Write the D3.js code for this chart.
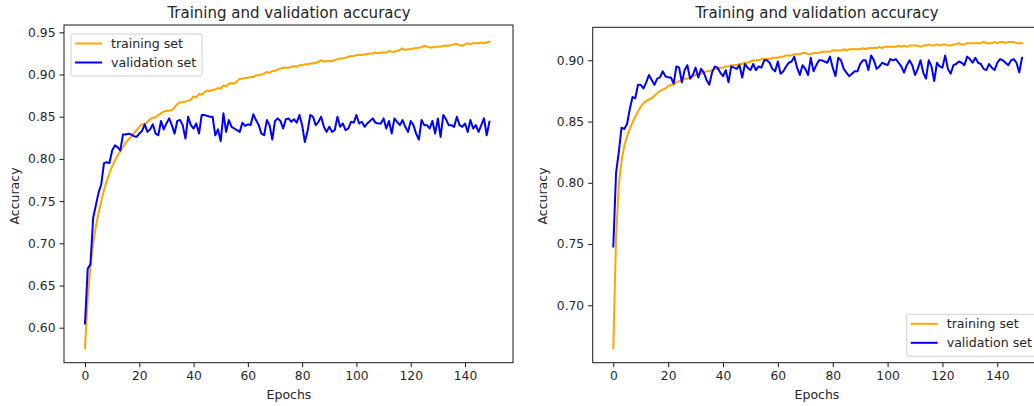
<!DOCTYPE html>
<html>
<head>
<meta charset="utf-8">
<script src="https://cdn.jsdelivr.net/npm/d3@7"></script>
<style>
  html, body { margin: 0; padding: 0; background: #fff; }
  svg { display: block; font-family: "DejaVu Sans", sans-serif; }
</style>
</head>
<body>
<svg id="chart" width="1034" height="406"></svg>
<script>
// ---------- data ----------
const epochs = d3.range(150);

const leftTraining = [
  0.576, 0.635, 0.672, 0.700, 0.720, 0.736, 0.750, 0.763, 0.774, 0.783,
  0.791, 0.798, 0.804, 0.809, 0.814, 0.819, 0.823, 0.826, 0.830, 0.834,
  0.838, 0.841, 0.841, 0.844, 0.847, 0.849, 0.849, 0.852, 0.854, 0.856,
  0.857, 0.857, 0.858, 0.861, 0.865, 0.867, 0.867, 0.868, 0.869, 0.870,
  0.874, 0.873, 0.877, 0.876, 0.879, 0.881, 0.880, 0.882, 0.882, 0.884,
  0.883, 0.887, 0.886, 0.889, 0.890, 0.889, 0.892, 0.895, 0.895, 0.896,
  0.896, 0.897, 0.897, 0.899, 0.899, 0.900, 0.901, 0.903, 0.902, 0.904,
  0.904, 0.906, 0.907, 0.908, 0.908, 0.908, 0.909, 0.910, 0.909, 0.911,
  0.911, 0.912, 0.912, 0.913, 0.913, 0.914, 0.915, 0.917, 0.915, 0.916,
  0.916, 0.916, 0.917, 0.918, 0.919, 0.919, 0.920, 0.921, 0.922, 0.922,
  0.923, 0.923, 0.923, 0.924, 0.924, 0.925, 0.925, 0.926, 0.925, 0.926,
  0.926, 0.926, 0.928, 0.927, 0.927, 0.928, 0.929, 0.931, 0.929, 0.930,
  0.930, 0.931, 0.931, 0.932, 0.932, 0.934, 0.933, 0.932, 0.932, 0.933,
  0.933, 0.933, 0.934, 0.934, 0.934, 0.935, 0.936, 0.936, 0.935, 0.934,
  0.936, 0.937, 0.936, 0.937, 0.937, 0.937, 0.938, 0.937, 0.938, 0.939
];

const leftValidation = [
  0.605, 0.670, 0.675, 0.730, 0.745, 0.760, 0.770, 0.795, 0.796, 0.795,
  0.810, 0.816, 0.814, 0.810, 0.829, 0.829, 0.830, 0.829, 0.827, 0.826,
  0.830, 0.833, 0.841, 0.832, 0.835, 0.841, 0.830, 0.828, 0.845, 0.835,
  0.842, 0.848, 0.840, 0.830, 0.845, 0.846, 0.840, 0.824, 0.850, 0.840,
  0.836, 0.842, 0.830, 0.852, 0.852, 0.851, 0.850, 0.850, 0.828, 0.835,
  0.821, 0.854, 0.832, 0.846, 0.838, 0.836, 0.834, 0.832, 0.843, 0.839,
  0.841, 0.840, 0.853, 0.846, 0.840, 0.830, 0.828, 0.846, 0.840, 0.823,
  0.845, 0.848, 0.845, 0.836, 0.847, 0.848, 0.844, 0.847, 0.843, 0.852,
  0.840, 0.820, 0.833, 0.852, 0.850, 0.840, 0.844, 0.850, 0.838, 0.832,
  0.838, 0.832, 0.834, 0.850, 0.838, 0.842, 0.834, 0.836, 0.844, 0.843,
  0.852, 0.842, 0.844, 0.838, 0.842, 0.845, 0.848, 0.843, 0.842, 0.842,
  0.848, 0.836, 0.845, 0.830, 0.848, 0.844, 0.840, 0.846, 0.838, 0.832,
  0.845, 0.840, 0.830, 0.823, 0.846, 0.840, 0.840, 0.836, 0.845, 0.830,
  0.848, 0.826, 0.852, 0.847, 0.840, 0.840, 0.838, 0.850, 0.840, 0.838,
  0.842, 0.832, 0.846, 0.836, 0.840, 0.832, 0.840, 0.848, 0.828, 0.844
];

const rightTraining = [
  0.665, 0.755, 0.798, 0.818, 0.830, 0.838, 0.844, 0.849, 0.854, 0.858,
  0.862, 0.865, 0.867, 0.868, 0.869, 0.871, 0.873, 0.875, 0.876, 0.877,
  0.879, 0.880, 0.880, 0.882, 0.883, 0.884, 0.885, 0.885, 0.886, 0.887,
  0.888, 0.889, 0.889, 0.890, 0.891, 0.891, 0.892, 0.893, 0.893, 0.894,
  0.894, 0.895, 0.895, 0.896, 0.896, 0.896, 0.897, 0.897, 0.898, 0.898,
  0.899, 0.900, 0.900, 0.900, 0.901, 0.901, 0.901, 0.901, 0.902, 0.902,
  0.902, 0.903, 0.903, 0.904, 0.904, 0.904, 0.905, 0.905, 0.905, 0.906,
  0.906, 0.905, 0.905, 0.906, 0.906, 0.906, 0.907, 0.907, 0.907, 0.907,
  0.908, 0.908, 0.908, 0.908, 0.909, 0.908, 0.909, 0.909, 0.909, 0.909,
  0.909, 0.910, 0.909, 0.910, 0.910, 0.910, 0.910, 0.911, 0.910, 0.911,
  0.911, 0.911, 0.911, 0.911, 0.912, 0.911, 0.912, 0.911, 0.912, 0.912,
  0.912, 0.912, 0.911, 0.912, 0.912, 0.913, 0.912, 0.912, 0.913, 0.912,
  0.913, 0.913, 0.912, 0.912, 0.913, 0.913, 0.914, 0.913, 0.913, 0.914,
  0.914, 0.914, 0.914, 0.914, 0.914, 0.915, 0.914, 0.914, 0.914, 0.915,
  0.914, 0.915, 0.915, 0.914, 0.915, 0.915, 0.915, 0.914, 0.914, 0.914
];

const rightValidation = [
  0.748, 0.808, 0.825, 0.845, 0.844, 0.848, 0.860, 0.870, 0.869, 0.880,
  0.880, 0.877, 0.882, 0.888, 0.884, 0.880, 0.885, 0.886, 0.891, 0.887,
  0.886, 0.886, 0.881, 0.895, 0.894, 0.882, 0.892, 0.896, 0.885, 0.888,
  0.894, 0.886, 0.893, 0.890, 0.884, 0.880, 0.890, 0.895, 0.894, 0.890,
  0.887, 0.892, 0.882, 0.895, 0.894, 0.893, 0.896, 0.886, 0.897, 0.894,
  0.892, 0.897, 0.892, 0.895, 0.894, 0.900, 0.900, 0.898, 0.893, 0.891,
  0.899, 0.889, 0.891, 0.895, 0.898, 0.899, 0.903, 0.894, 0.888, 0.896,
  0.893, 0.888, 0.902, 0.891, 0.896, 0.900, 0.900, 0.899, 0.898, 0.903,
  0.894, 0.887, 0.902, 0.900, 0.893, 0.890, 0.887, 0.889, 0.891, 0.891,
  0.897, 0.900, 0.900, 0.892, 0.904, 0.900, 0.893, 0.895, 0.898, 0.897,
  0.896, 0.901, 0.900, 0.901, 0.898, 0.895, 0.890, 0.896, 0.900, 0.896,
  0.888, 0.893, 0.900, 0.890, 0.885, 0.900, 0.895, 0.883, 0.898, 0.895,
  0.894, 0.904, 0.893, 0.889, 0.896, 0.897, 0.899, 0.898, 0.896, 0.903,
  0.901, 0.898, 0.902, 0.898, 0.897, 0.893, 0.892, 0.897, 0.894, 0.892,
  0.898, 0.901, 0.900, 0.898, 0.896, 0.900, 0.901, 0.898, 0.890, 0.902
];

const xTicks = [0, 20, 40, 60, 80, 100, 120, 140];
const leftYTicks = [0.60, 0.65, 0.70, 0.75, 0.80, 0.85, 0.90, 0.95];
const rightYTicks = [0.70, 0.75, 0.80, 0.85, 0.90];
const seriesNames = ["training set", "validation set"];
const titleText = "Training and validation accuracy";

// ---------- drawing ----------
const svg = d3.select("#chart");
const TEXT = "#262626";
const FS = 12.3;

function panel(cfg) {
  const g = svg.append("g");
  const x = d3.scaleLinear().domain([0, 140]).range([cfg.x0, cfg.x140]);
  const y = d3.scaleLinear().domain(cfg.yDom).range(cfg.yRange);
  const f = cfg.frame; // {l, r, t, b}

  const line = d3.line().x((d, i) => x(epochs[i])).y(d => y(d));

  g.append("path").datum(cfg.train)
    .attr("d", line).attr("fill", "none")
    .attr("stroke", "orange").attr("stroke-width", 2)
    .attr("stroke-linejoin", "round").attr("stroke-linecap", "square");
  g.append("path").datum(cfg.val)
    .attr("d", line).attr("fill", "none")
    .attr("stroke", "blue").attr("stroke-width", 2)
    .attr("stroke-linejoin", "round").attr("stroke-linecap", "square");

  // frame
  g.append("rect")
    .attr("x", f.l).attr("y", f.t)
    .attr("width", f.r - f.l).attr("height", f.b - f.t)
    .attr("fill", "none").attr("stroke", "#1a1a1a").attr("stroke-width", 1);

  // x axis
  const xAxis = d3.axisBottom(x).tickValues(xTicks).tickSize(4.5).tickPadding(4).tickFormat(d3.format("d"));
  const gx = g.append("g").attr("transform", `translate(0,${f.b})`).call(xAxis);
  gx.select(".domain").remove();
  gx.selectAll("line").attr("stroke", "#1a1a1a");
  gx.selectAll("text").attr("font-size", FS).attr("fill", TEXT).attr("font-family", "DejaVu Sans");

  // y axis
  const yAxis = d3.axisLeft(y).tickValues(cfg.yTicks).tickSize(4.5).tickPadding(4).tickFormat(d3.format(".2f"));
  const gy = g.append("g").attr("transform", `translate(${f.l},0)`).call(yAxis);
  gy.select(".domain").remove();
  gy.selectAll("line").attr("stroke", "#1a1a1a");
  gy.selectAll("text").attr("font-size", FS).attr("fill", TEXT).attr("font-family", "DejaVu Sans");

  // title
  g.append("text").attr("x", cfg.titleX).attr("y", 18)
    .attr("text-anchor", "middle").attr("font-size", 15).attr("fill", TEXT)
    .text(titleText);
  // axis labels
  g.append("text").attr("x", cfg.xLabelX).attr("y", 399)
    .attr("text-anchor", "middle").attr("font-size", 12.5).attr("fill", TEXT)
    .text("Epochs");
  g.append("text")
    .attr("transform", `translate(${cfg.yLabelX},196) rotate(-90)`)
    .attr("text-anchor", "middle").attr("dy", "0.35em").attr("font-size", 12.5).attr("fill", TEXT)
    .text("Accuracy");

  // legend
  const L = cfg.legend;
  const lg = g.append("g");
  lg.append("rect").attr("x", L.x).attr("y", L.y).attr("width", L.w).attr("height", L.h)
    .attr("rx", 2).attr("fill", "#fff").attr("fill-opacity", 0.8)
    .attr("stroke", "#d0d0d0").attr("stroke-width", 1);
  const colors = ["orange", "blue"];
  seriesNames.forEach((name, i) => {
    const ly = L.y + 9.5 + i * 19;
    lg.append("line").attr("x1", L.x + 4).attr("x2", L.x + 31).attr("y1", ly).attr("y2", ly)
      .attr("stroke", colors[i]).attr("stroke-width", 2);
    lg.append("text").attr("x", L.x + 40).attr("y", ly).attr("dy", "0.35em")
      .attr("font-size", 12.6).attr("fill", TEXT).text(name);
  });
}

panel({
  x0: 85, x140: 465,
  yDom: [0.60, 0.95], yRange: [327.7, 32.3],
  frame: { l: 64, r: 513, t: 25, b: 362.7 },
  train: leftTraining, val: leftValidation,
  yTicks: leftYTicks,
  titleX: 289, xLabelX: 289, yLabelX: 15,
  legend: { x: 71, y: 34, w: 131, h: 42 }
});

panel({
  x0: 613.3, x140: 997.3,
  yDom: [0.70, 0.90], yRange: [305.3, 60.3],
  frame: { l: 592.7, r: 1042, t: 27.3, b: 362.7 },
  train: rightTraining, val: rightValidation,
  yTicks: rightYTicks,
  titleX: 817, xLabelX: 817, yLabelX: 543,
  legend: { x: 906.7, y: 314.3, w: 133, h: 42 }
});
</script>
</body>
</html>
